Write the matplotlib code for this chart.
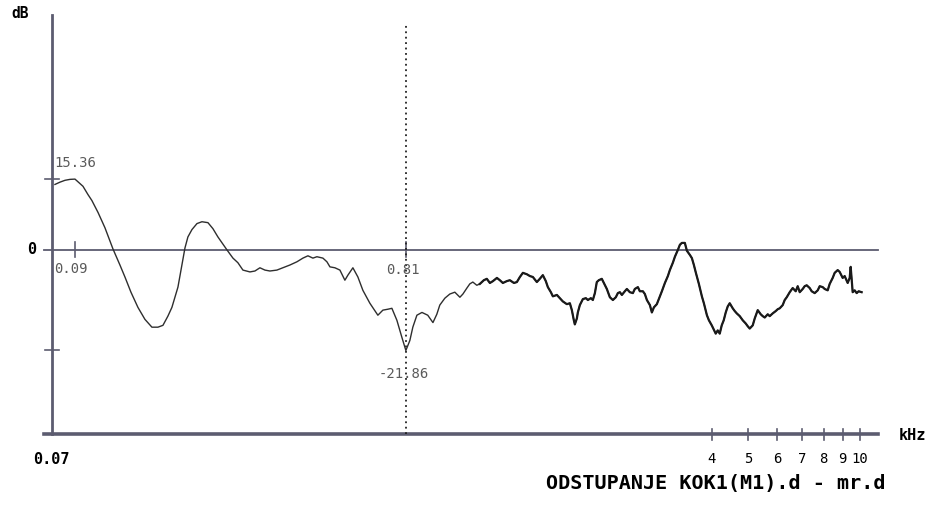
import numpy as np
import matplotlib
matplotlib.use('Agg')
import matplotlib.pyplot as plt

# odstupanje (dB) u ovisnosti o frekvenciji (kHz)
freq_khz = np.array([
    0.0723, 0.0764, 0.0807, 0.0852, 0.09, 0.0949, 0.0981, 0.1007, 0.1049, 0.1098,
    0.1158, 0.1213, 0.1254, 0.1305, 0.1367, 0.1432, 0.1500, 0.1561, 0.1614, 0.1668,
    0.1713, 0.1783, 0.1831, 0.1868, 0.1905, 0.1957, 0.2023, 0.2091, 0.2176, 0.2249,
    0.2325, 0.2468, 0.2569, 0.2655, 0.2745, 0.2876, 0.2973, 0.3073, 0.3177, 0.3284,
    0.3440, 0.3580, 0.3750, 0.3929, 0.4089, 0.4227, 0.4369, 0.4487, 0.4669, 0.4795,
    0.4892, 0.5057, 0.5227, 0.5403, 0.5512, 0.5698, 0.5890, 0.6089, 0.6378, 0.6726,
    0.6953, 0.7188, 0.7382, 0.7631, 0.7888, 0.81,
    0.827, 0.840, 0.858, 0.881, 0.908, 0.933, 0.952, 0.967, 0.993, 1.019,
    1.046, 1.074, 1.091, 1.114, 1.131, 1.149, 1.173, 1.192, 1.217, 1.236,
    1.256, 1.276, 1.303, 1.323, 1.344, 1.372, 1.394, 1.424, 1.446, 1.469,
    1.492, 1.523, 1.548, 1.572, 1.605, 1.630, 1.656, 1.682, 1.700, 1.727,
    1.745, 1.782, 1.810, 1.838, 1.877, 1.907, 1.927, 1.947, 1.957, 1.978,
    1.988, 2.009, 2.041, 2.073, 2.095, 2.128, 2.150, 2.173, 2.195, 2.218,
    2.253, 2.277, 2.313, 2.350, 2.387, 2.424, 2.450, 2.476, 2.502, 2.541,
    2.568, 2.608, 2.650, 2.677, 2.720, 2.748, 2.792, 2.821, 2.851, 2.896,
    2.926, 2.957, 3.003, 3.051, 3.083, 3.132, 3.181, 3.214, 3.265, 3.300,
    3.352, 3.387, 3.422, 3.476, 3.513, 3.568, 3.606, 3.644, 3.682, 3.740,
    3.799, 3.839, 3.900, 3.941, 4.0,
    4.050, 4.100, 4.151, 4.203, 4.255, 4.308, 4.362, 4.416, 4.471, 4.555,
    4.612, 4.670, 4.757, 4.846, 4.937, 4.999, 5.061, 5.156, 5.220, 5.318,
    5.418, 5.485, 5.554, 5.658, 5.728, 5.836, 5.945, 6.019, 6.094, 6.208,
    6.285, 6.364, 6.483, 6.604, 6.728, 6.812, 6.897, 7.026, 7.113, 7.202,
    7.337, 7.428, 7.568, 7.710, 7.806, 7.952, 8.051, 8.202, 8.304, 8.460,
    8.565, 8.726, 8.834, 9.000, 9.112, 9.283, 9.399, 9.457, 9.516, 9.575,
    9.694, 9.815, 9.937, 10.12,
])
dev_db = np.array([
    14.2, 14.7, 15.1, 15.3, 15.36, 13.8, 12.0, 10.7, 8.1, 4.8,
    0.2, -3.3, -5.9, -9.2, -12.5, -15.1, -16.8, -16.8, -16.4, -14.4,
    -12.5, -8.1, -3.3, 0.4, 2.8, 4.4, 5.7, 6.1, 5.9, 4.6,
    2.8, 0.0, -1.8, -2.8, -4.4, -4.8, -4.6, -3.9, -4.4, -4.6,
    -4.4, -3.9, -3.3, -2.6, -1.8, -1.3, -1.8, -1.5, -1.8, -2.6,
    -3.7, -3.9, -4.4, -6.6, -5.5, -3.9, -5.9, -8.8, -11.6, -14.2,
    -13.1, -12.9, -12.7, -15.3, -19.0, -21.86,
    -19.7, -16.8, -14.2, -13.6, -14.2, -15.8, -14.0, -12.0, -10.5, -9.6,
    -9.2, -10.3, -9.6, -8.3, -7.4, -7.0, -7.7, -7.4, -6.6, -6.3,
    -7.2, -6.8, -6.1, -6.6, -7.2, -6.8, -6.6, -7.2, -7.0, -5.9,
    -5.0, -5.3, -5.7, -5.9, -7.0, -6.3, -5.5, -6.8, -8.1, -9.2,
    -10.1, -9.8, -10.5, -11.2, -11.8, -11.6, -13.1, -15.3, -16.2, -14.9,
    -13.6, -12.0, -10.7, -10.5, -10.9, -10.5, -10.9, -9.4, -7.0, -6.6,
    -6.3, -7.2, -8.5, -10.3, -10.9, -10.3, -9.4, -9.2, -9.8, -9.0,
    -8.5, -9.2, -9.4, -8.5, -8.1, -9.0, -9.0, -9.6, -10.9, -12.0,
    -13.6, -12.5, -11.8, -10.1, -9.0, -7.2, -5.7, -4.4, -2.8, -1.5,
    0.0, 1.1, 1.5, 1.5, -0.2, -1.1, -1.8, -3.3, -5.0, -7.4,
    -10.1, -11.6, -14.2, -15.3, -16.4,
    -17.3, -18.2, -17.5, -18.2, -16.4, -15.3, -13.6, -12.3, -11.6, -12.7,
    -13.3, -13.8, -14.4, -15.3, -16.0, -16.6, -17.1, -16.4, -14.9, -13.1,
    -14.0, -14.4, -14.7, -14.0, -14.4, -13.8, -13.3, -12.9, -12.7, -12.0,
    -10.9, -10.3, -9.2, -8.3, -9.0, -7.9, -9.2, -8.5, -7.9, -7.7,
    -8.3, -9.0, -9.4, -8.8, -7.9, -8.1, -8.5, -8.8, -7.4, -6.1,
    -5.0, -4.4, -4.8, -6.1, -5.7, -7.2, -6.1, -3.7, -6.6, -9.2,
    -8.8, -9.4, -9.0, -9.2,
])

cursor_khz = [0.09, 0.81]
cursor_db = [15.36, -21.86]
tick_khz = [4, 5, 6, 7, 8, 9, 10]
tick_txt = ['4', '5', '6', '7', '8', '9', '10']

# nejednolika log skala frekvencije (kao na ekranu analizatora)
knot_f = np.log10([0.05, 0.07, 0.09, 0.81, 4, 10, 20])
knot_u = np.array([-31, 0, 23, 354, 660, 808, 920], dtype=float)


def fwd(f):
    f = np.clip(np.asarray(f, dtype=float), 1e-6, None)
    return np.interp(np.log10(f), knot_f, knot_u)


def inv(u):
    return 10 ** np.interp(np.asarray(u, dtype=float), knot_u, knot_f)


axc = '#5c5c70'
mono = 'DejaVu Sans Mono'

fig = plt.figure(figsize=(9.41, 5.05), dpi=100)
ax = fig.add_axes([52 / 941, 1 - 434 / 505, 826 / 941, 419 / 505])
ax.set_xscale('function', functions=(fwd, inv))
ax.set_xlim(0.07, 11.2)
ax.set_ylim(-40, 51)
ax.set_xticks([])
ax.set_yticks([])
for s in ax.spines.values():
    s.set_visible(False)

xt = ax.get_xaxis_transform()
yt = ax.get_yaxis_transform()

# osi
ax.plot([0, 0], [0, 1], transform=ax.transAxes, color=axc, lw=2, clip_on=False)
ax.plot([-0.01, 1], [0, 0], transform=ax.transAxes, color=axc, lw=2.6, clip_on=False)
ax.plot([-0.01, 1], [0, 0], transform=yt, color=axc, lw=1.3, clip_on=False)

for v in cursor_db:
    ax.plot([-0.008, 0.008], [v, v], transform=yt, color=axc, lw=1.2, clip_on=False)
for f in tick_khz:
    ax.plot([f, f], [-0.014, 0.012], transform=xt, color=axc, lw=1.2, clip_on=False)

# kursori
ax.plot([cursor_khz[0]] * 2, [-1.6, 1.6], color=axc, lw=1.2)
ax.plot([cursor_khz[1]] * 2, [-1.6, 1.6], color=axc, lw=1.2)
ax.plot([cursor_khz[1]] * 2, [0, 0.976], transform=xt, color='#222222',
        lw=1.3, ls=(0, (1, 2)))

# krivulja; šumoviti dio iznad ~1.2 kHz podebljan
ax.plot(freq_khz, dev_db, color='#2e2e2e', lw=1.0)
hf = freq_khz >= 1.19
ax.plot(freq_khz[hf], dev_db[hf], color='#1a1a1a', lw=1.6)

# natpisi kursora
lab = dict(textcoords='offset pixels', ha='center', va='center',
           family=mono, fontsize=10, color='#5a5a5a')
ax.annotate(f'{cursor_db[0]:.2f}', xy=(cursor_khz[0], cursor_db[0]), xytext=(0, 16), **lab)
ax.annotate(f'{cursor_khz[0]:.2f}', xy=(cursor_khz[0], 0), xytext=(-4, -19), **lab)
ax.annotate(f'{cursor_khz[1]:.2f}', xy=(cursor_khz[1], 0), xytext=(-3, -20), **lab)
ax.annotate(f'{cursor_db[1]:.2f}', xy=(cursor_khz[1], cursor_db[1]), xytext=(-2, -24), **lab)

ax.annotate('0', xy=(0, 0), xycoords=yt, xytext=(-20, 0), textcoords='offset pixels',
            ha='center', va='center', family=mono, fontsize=11, weight='bold')
ax.annotate('0.07', xy=(0.07, 0), xycoords=xt, xytext=(-1, -25), textcoords='offset pixels',
            ha='center', va='center', family=mono, fontsize=11, weight='bold')
for f, t in zip(tick_khz, tick_txt):
    ax.annotate(t, xy=(f, 0), xycoords=xt, xytext=(0, -25), textcoords='offset pixels',
                ha='center', va='center', family=mono, fontsize=10)

fig.text(20 / 941, 1 - 14 / 505, 'dB', ha='center', va='center',
         family=mono, fontsize=10.5, weight='bold')
fig.text(912 / 941, 1 - 435 / 505, 'kHz', ha='center', va='center',
         family=mono, fontsize=11, weight='bold')
fig.text(716 / 941, 1 - 484 / 505, 'ODSTUPANJE KOK1(M1).d - mr.d', ha='center', va='center',
         family=mono, fontsize=14.5, weight='bold')

fig.savefig('out.png', dpi=100, facecolor='white')
